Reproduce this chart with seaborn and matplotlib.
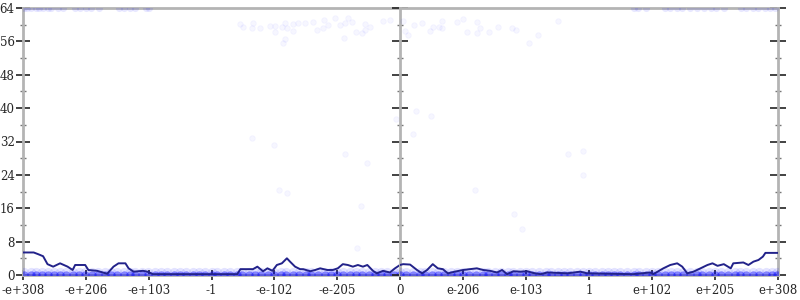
import numpy as np
import pandas as pd
import matplotlib
matplotlib.use("Agg")
import matplotlib.pyplot as plt
import seaborn as sns

# ---------------- data (x in tick-ordinal units: -6 = -e+308 ... 6 = e+308) ----------------
tick_pos = [-6, -5, -4, -3, -2, -1, 0, 1, 2, 3, 4, 5, 6]
tick_labels = ["-e+308", "-e+206", "-e+103", "-1", "-e-102", "-e-205", "0",
               "e-206", "e-103", "1", "e+102", "e+205", "e+308"]
y_ticks = [0, 8, 16, 24, 32, 40, 48, 56, 64]
y_minor = [4, 12, 20, 28, 36, 44, 52, 60]

# average error line
line_x = [-6.0, -5.83, -5.76, -5.68, -5.61, -5.52, -5.41, -5.29, -5.21, -5.17, -5.01, -4.96,
          -4.82, -4.66, -4.56, -4.48, -4.37, -4.32, -4.24, -4.09, -4.02, -3.93, -2.59, -2.54,
          -2.34, -2.27, -2.18, -2.11, -2.03, -1.96, -1.88, -1.80, -1.75, -1.67, -1.59, -1.54,
          -1.43, -1.35, -1.27, -1.16, -1.07, -0.99, -0.91, -0.83, -0.75, -0.67, -0.59, -0.52,
          -0.43, -0.37, -0.27, -0.16, -0.08, 0.0, 0.05, 0.16, 0.27, 0.35, 0.43, 0.52, 0.60,
          0.68, 0.76, 0.87, 1.00, 1.11, 1.22, 1.32, 1.43, 1.54, 1.62, 1.70, 1.80, 1.91, 2.02,
          2.11, 2.23, 2.34, 2.66, 2.86, 2.97, 3.70, 3.97, 4.02, 4.18, 4.29, 4.40, 4.48, 4.56,
          4.66, 4.77, 4.88, 4.96, 5.04, 5.14, 5.25, 5.29, 5.45, 5.53, 5.61, 5.69, 5.76, 5.80, 6.0]
line_y = [5.4, 5.4, 5.0, 4.5, 2.6, 2.0, 2.8, 2.0, 1.2, 2.4, 2.4, 1.2,
          1.0, 0.3, 2.0, 2.8, 2.8, 1.6, 0.8, 1.0, 0.8, 0.2, 0.2, 1.4,
          1.4, 2.0, 0.9, 1.6, 1.0, 2.4, 2.8, 4.0, 3.2, 2.0, 1.4, 1.4,
          0.9, 1.2, 1.6, 1.2, 1.2, 1.6, 2.6, 2.4, 2.0, 2.4, 2.0, 2.4,
          1.0, 0.4, 1.0, 0.6, 1.6, 2.4, 2.6, 2.5, 1.2, 0.4, 1.2, 2.6, 1.6,
          1.4, 0.4, 0.8, 1.2, 1.4, 1.6, 1.2, 1.0, 0.6, 1.2, 0.2, 0.9, 0.8, 0.9,
          0.5, 0.2, 0.6, 0.4, 0.8, 0.4, 0.2, 0.6, 0.2, 1.6, 2.4, 2.8, 2.0, 0.4,
          0.8, 1.6, 2.4, 2.8, 2.2, 2.6, 1.6, 2.8, 3.0, 2.4, 3.2, 3.6, 4.4, 5.3, 5.3]

# sparse sampled points
pts_x = [-2.54, -2.50, -2.34, -2.35, -2.23, -2.07, -1.99, -1.99, -1.88, -1.83, -1.80, -1.70,
         -1.70, -1.62, -1.51, -1.38, -1.32, -1.22, -1.21, -1.14, -1.03, -0.95, -0.87, -0.83,
         -0.76, -0.89, -0.70, -0.60, -0.56, -0.56, -0.48, -0.27, -0.16, -1.83, -1.86,
         0.05, 0.08, 0.13, 0.22, 0.35, 0.48, 0.52, 0.62, 0.67, 0.67, 0.91, 1.00, 1.07, 1.22,
         1.22, 1.27, 1.41, 1.56, 1.78, 1.84, 2.05, 2.19, 2.50,
         -2.36, -2.00, -0.87, -0.53, -1.93, -1.80, -0.62, -0.69, -0.07, 0.25, 0.49, 0.20,
         2.67, 2.90, 2.90, 1.19, 1.81, 1.94]
pts_y = [60.1, 59.4, 60.4, 59.2, 59.2, 59.7, 59.7, 58.3, 59.4, 60.5, 59.2, 60.2,
         58.6, 60.5, 60.5, 60.7, 58.8, 59.2, 61.2, 60.0, 61.6, 60.0, 60.5, 61.6,
         60.7, 56.8, 58.2, 58.0, 60.2, 58.8, 59.4, 61.0, 61.2, 56.5, 55.7,
         61.0, 58.6, 57.6, 60.0, 60.5, 58.6, 59.4, 59.4, 61.0, 59.2, 60.7, 61.4, 58.2, 60.7,
         58.1, 59.2, 58.2, 59.5, 59.2, 58.8, 55.6, 57.6, 61.0,
         32.8, 31.2, 28.9, 26.9, 20.4, 19.7, 16.6, 6.5, 37.4, 39.4, 38.0, 33.8,
         29.0, 29.8, 24.0, 20.4, 14.6, 11.0]

# points saturated at 64 bits
top_x = [-5.99, -5.93, -5.87, -5.80, -5.74, -5.68, -5.61, -5.55, -5.45, -5.37, -5.17, -5.09,
         -4.99, -4.91, -4.79, -4.48, -4.39, -4.29, -4.21, -4.05, -3.99,
         3.72, 3.78, 3.90, 4.20, 4.29, 4.39, 4.48, 4.61, 4.71, 4.83, 4.93, 5.02, 5.15,
         5.41, 5.50, 5.60, 5.69, 5.79, 5.88, 5.96]
TOP_Y = 64

# dense band of exact / near-exact points
band_x = [-5.98, -5.88, -5.79, -5.69, -5.6, -5.5, -5.41, -5.31, -5.2, -5.11, -5.01, -4.9,
          -4.81, -4.7, -4.6, -4.51, -4.4, -4.3, -4.21, -4.1, -4.01, -3.9, -3.8, -3.71, -3.6,
          -3.5, -3.41, -3.3, -3.2, -3.11, -3.0, -2.91, -2.8, -2.7, -2.6, -2.51, -2.4, -2.3,
          -2.21, -2.1, -2.0, -1.9, -1.81, -1.7, -1.6, -1.5, -1.41, -1.3, -1.2, -1.1, -1.01,
          -0.9, -0.8, -0.7, -0.61, -0.5, -0.4, -0.3, -0.2, -0.1, 0.0, 0.1, 0.2, 0.31, 0.4,
          0.5, 0.6, 0.7, 0.81, 0.9, 1.0, 1.1, 1.2, 1.31, 1.4, 1.5, 1.6, 1.71, 1.8, 1.9, 2.0,
          2.1, 2.2, 2.31, 2.4, 2.5, 2.6, 2.7, 2.81, 2.9, 3.0, 3.1, 3.21, 3.3, 3.4, 3.5, 3.6,
          3.71, 3.8, 3.9, 4.0, 4.1, 4.21, 4.3, 4.4, 4.5, 4.6, 4.71, 4.8, 4.9, 5.0, 5.1, 5.2,
          5.31, 5.4, 5.5, 5.6, 5.7, 5.81, 5.9, 5.98]
BAND_LOW_Y = 0
BAND_HIGH_Y = 0.75

# ---------------- styling ----------------
sns.set_style("white")
plt.rcParams["font.family"] = ["DejaVu Serif"]
plt.rcParams["font.size"] = 8.5

NAVY = "#22228a"
BLUE = "#0000ff"
GRAY = "#b4b4b4"

fig = plt.figure(figsize=(8, 3), dpi=100)
axL = fig.add_axes([23 / 800, 25 / 300, 377 / 800, 267 / 300])
axR = fig.add_axes([400 / 800, 25 / 300, 378 / 800, 267 / 300], sharey=axL)

line_df = pd.DataFrame({"x": line_x, "y": line_y})
pts_df = pd.DataFrame({"x": pts_x, "y": pts_y})
top_df = pd.DataFrame({"x": top_x, "y": [TOP_Y] * len(top_x)})
low_df = pd.DataFrame({"x": band_x, "y": [BAND_LOW_Y] * len(band_x)})
high_df = pd.DataFrame({"x": band_x, "y": [BAND_HIGH_Y] * len(band_x)})

for ax, lo, hi in ((axL, -6, 0), (axR, 0, 6)):
    def part(df):
        return df[(df.x >= lo) & (df.x <= hi)]
    sns.scatterplot(data=part(high_df), x="x", y="y", ax=ax, color=BLUE, alpha=0.11,
                    s=44, linewidth=0, zorder=2)
    sns.scatterplot(data=part(low_df), x="x", y="y", ax=ax, color=BLUE, alpha=0.42,
                    s=36, linewidth=0, zorder=2)
    sns.scatterplot(data=part(top_df), x="x", y="y", ax=ax, color=BLUE, alpha=0.09,
                    s=26, linewidth=0, zorder=2)
    sns.scatterplot(data=part(pts_df), x="x", y="y", ax=ax, color=BLUE, alpha=0.035,
                    s=16, linewidth=0.6, edgecolor=BLUE, zorder=2)
    sns.lineplot(data=part(line_df), x="x", y="y", ax=ax, color=NAVY, linewidth=1.4,
                 estimator=None, sort=True, zorder=3)
    ax.set_xlim(lo, hi)
    ax.set_ylim(0, 64)
    ax.set_xlabel("")
    ax.set_ylabel("")
    for sp in ax.spines.values():
        sp.set_color(GRAY)
        sp.set_linewidth(2)
        sp.set_visible(True)
        sp.set_zorder(1)

# left half
axL.spines["right"].set_visible(False)
axL.set_xticks(tick_pos[:6])
axL.set_xticklabels(tick_labels[:6])
axL.set_yticks(y_ticks)
axL.set_yticks(y_minor, minor=True)
axL.tick_params(axis="y", which="major", direction="inout", length=10, width=1.2,
                color="#222222", left=True, labelleft=True, pad=1)
axL.tick_params(axis="y", which="minor", direction="inout", length=5, width=1,
                color="#777777", left=True)

# right half
axR.set_xticks(tick_pos[6:])
axR.set_xticklabels(tick_labels[6:])
axR.tick_params(axis="y", which="major", direction="inout", length=11, width=1.2,
                color="#222222", left=True, right=True, labelleft=False)
axR.tick_params(axis="y", which="minor", direction="inout", length=5, width=1,
                color="#777777", left=True, right=True)

for ax in (axL, axR):
    ax.tick_params(axis="x", which="major", direction="inout", length=7, width=1.2,
                   color="#222222", bottom=True, pad=3, labelsize=8.5)
    ax.tick_params(axis="y", labelsize=8.5)

fig.savefig("out.png", dpi=100)
